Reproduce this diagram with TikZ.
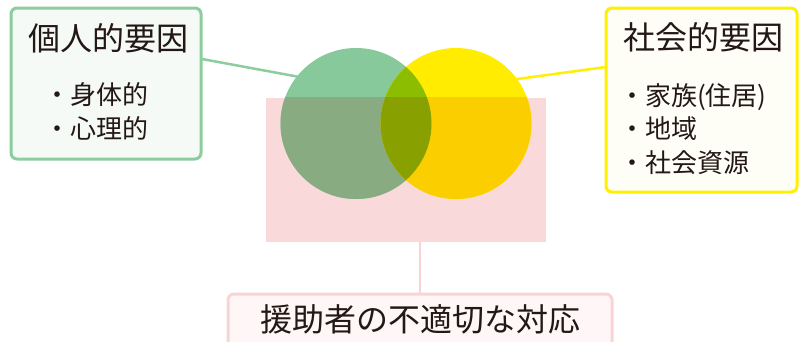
\documentclass[tikz,border=0pt]{standalone}
\usepackage{fontspec}
\setmainfont{Noto Sans CJK JP}
\definecolor{txt}{HTML}{231815}
\definecolor{gborder}{HTML}{8CCD9E}
\definecolor{gfill}{HTML}{F5FAF7}
\definecolor{yborder}{HTML}{FFF000}
\definecolor{yfill}{HTML}{FFFEF6}
\definecolor{pborder}{HTML}{FAD4D4}
\definecolor{pfill}{HTML}{FFF7F7}
\definecolor{pinkrect}{HTML}{F9D9D9}
\definecolor{gcirc}{HTML}{88C99B}
\definecolor{gcircp}{HTML}{88AB82}
\definecolor{ycirc}{HTML}{FFEC00}
\definecolor{ycircp}{HTML}{FBCE00}
\definecolor{ovl}{HTML}{8CBD00}
\definecolor{ovlp}{HTML}{88A000}
\tikzset{
  framebox/.style={draw, line width=3pt, rounded corners=6pt, inner sep=0pt},
  titletext/.style={font=\fontsize{32}{36}\selectfont, text=txt, inner sep=0pt, anchor=base},
  itemtext/.style={font=\fontsize{26}{30}\selectfont, text=txt, inner sep=0pt, anchor=base west},
  venn/.style={circle, inner sep=0pt, minimum size=151pt},
}
\begin{document}
\begin{tikzpicture}[x=1pt,y=-1pt]
\useasboundingbox (0,0) rectangle (803,341);
% connectors under circles
\coordinate (la) at (202,59);
\coordinate (lb) at (305,78);
\coordinate (ra) at (606,67);
\coordinate (rb) at (510,80);
\draw[gborder, line width=2.5pt] (la) -- (lb);
\draw[yborder, line width=2.5pt] (ra) -- (rb);
% pink rectangle
\node[fill=pinkrect, inner sep=0pt, minimum width=280pt, minimum height=144pt] (prect) at (406,170) {};
% circles
\node[venn, fill=gcirc] (gc) at (356,123.5) {};
\node[venn, fill=ycirc] (yc) at (456,123.5) {};
\begin{scope}
  \clip (356,123.5) circle (75.5);
  \fill[ovl] (456,123.5) circle (75.5);
\end{scope}
\begin{scope}
  \clip (prect.north west) rectangle (prect.south east);
  \fill[gcircp] (356,123.5) circle (75.5);
  \fill[ycircp] (456,123.5) circle (75.5);
  \clip (356,123.5) circle (75.5);
  \fill[ovlp] (456,123.5) circle (75.5);
\end{scope}
% boxes
\node[framebox, draw=gborder, fill=gfill, minimum width=190pt, minimum height=151pt] (lbox) at (106,83.5) {};
\node[framebox, draw=yborder, fill=yfill, minimum width=191pt, minimum height=184pt] (rbox) at (701.5,100) {};
\node[framebox, draw=pborder, fill=pfill, minimum width=384pt, minimum height=70pt] (bbox) at (420,329) {};
\draw[pborder, line width=2pt] (prect.south -| bbox.north) -- (bbox.north);
% texts
\node[titletext] (lt) at (108.5,50) {個人的要因};
\node[itemtext] (l1) at (44,104) {・身体的};
\node[itemtext] (l2) at (44,138) {・心理的};
\node[titletext] (rt) at (703.5,49) {社会的要因};
\node[itemtext] (r1) at (619,105) {・家族(住居)};
\node[itemtext] (r2) at (619,138) {・地域};
\node[itemtext] (r3) at (619,172) {・社会資源};
\node[titletext] (bt) at (420,331) {援助者の不適切な対応};
\end{tikzpicture}
\end{document}
